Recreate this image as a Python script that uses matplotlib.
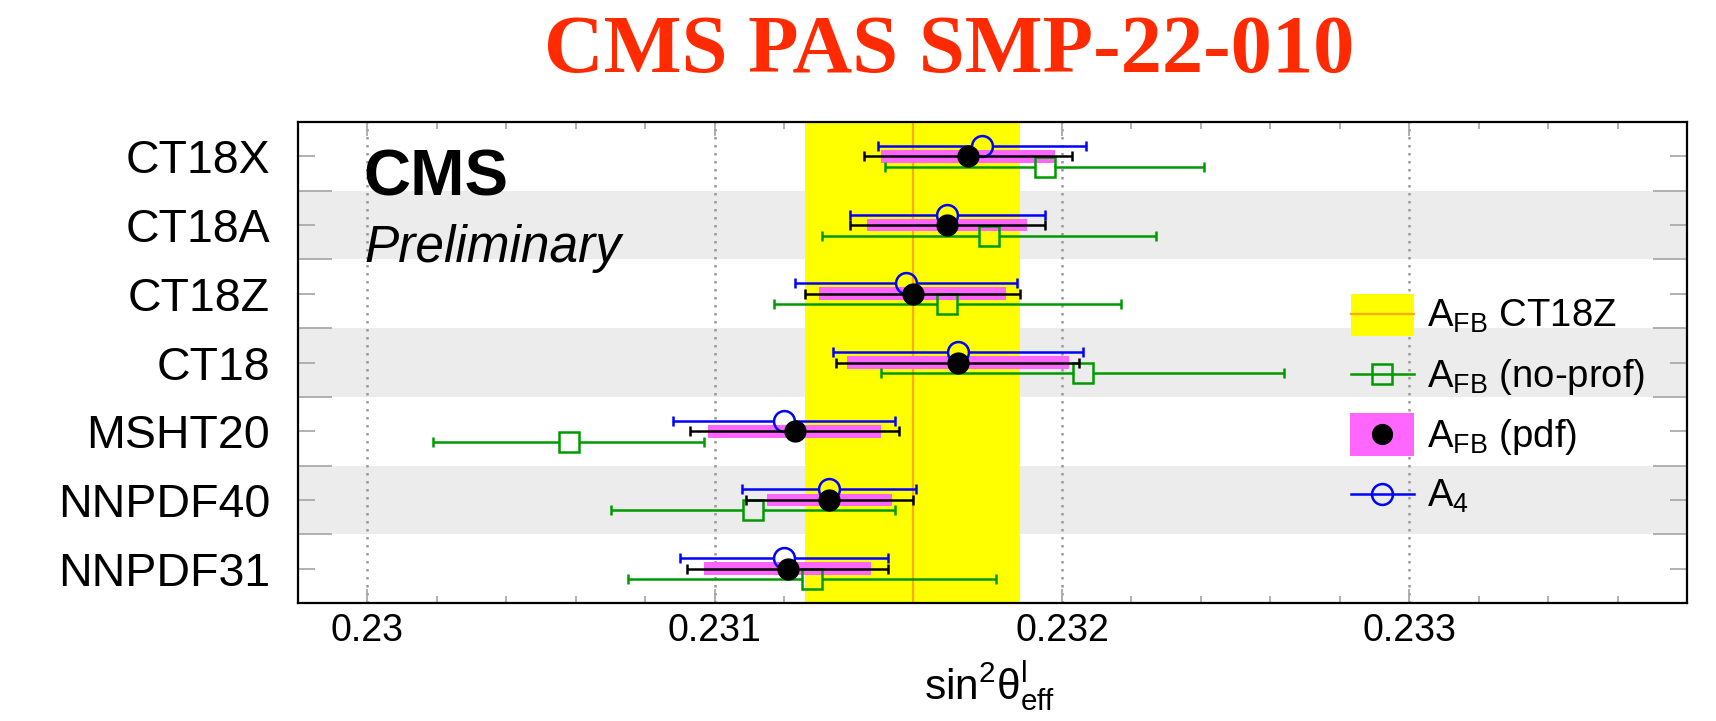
import numpy as np
import matplotlib
matplotlib.use("Agg")
import matplotlib.pyplot as plt
from matplotlib.patches import Rectangle
from matplotlib.lines import Line2D
from matplotlib.ticker import MultipleLocator, FuncFormatter

plt.rcParams['font.family'] = ['Liberation Sans', 'DejaVu Sans']
plt.rcParams['mathtext.fontset'] = 'custom'
plt.rcParams['mathtext.rm'] = 'Liberation Sans'
plt.rcParams['mathtext.it'] = 'Liberation Sans:italic'
plt.rcParams['mathtext.bf'] = 'Liberation Sans:bold'

# ---- measurements of sin^2(theta_eff) for each PDF set ----
pdf_sets = ['CT18X', 'CT18A', 'CT18Z', 'CT18', 'MSHT20', 'NNPDF40', 'NNPDF31']

# A_FB fit with PDF profiling: central value, total error, PDF-only error
afb_val = [0.23173, 0.23167, 0.23157, 0.23170, 0.23123, 0.23133, 0.23121]
afb_err = [0.00030, 0.00028, 0.00031, 0.00035, 0.00030, 0.00024, 0.00029]
afb_pdf_err = [0.00025, 0.00023, 0.00027, 0.00032, 0.00025, 0.00018, 0.00024]

# A_FB fit without profiling
noprof_val = [0.23195, 0.23179, 0.23167, 0.23206, 0.23058, 0.23111, 0.23128]
noprof_err = [0.00046, 0.00048, 0.00050, 0.00058, 0.00039, 0.00041, 0.00053]

# angular coefficient A4 fit
a4_val = [0.23177, 0.23167, 0.23155, 0.23170, 0.23120, 0.23133, 0.23120]
a4_err = [0.00030, 0.00028, 0.00032, 0.00036, 0.00032, 0.00025, 0.00030]

# nominal result (A_FB, CT18Z)
nominal_val = 0.23157
nominal_err = 0.00031

x_ticks = [0.230, 0.231, 0.232, 0.233]

# ---- styling ----
YELLOW = '#ffff00'
ORANGE = '#ffaa00'
PINK = '#ff66ff'
GREEN = '#009a00'
BLUE = '#0000ff'
BAND = '#ececec'
TICK = '#aaaaaa'

W, H, DPI = 1716, 721, 100
L_PX, R_PX, T_PX, B_PX = 298, 1687, 122, 603

fig = plt.figure(figsize=(W / DPI, H / DPI), dpi=DPI)
ax = fig.add_axes([L_PX / W, 1 - B_PX / H, (R_PX - L_PX) / W, (B_PX - T_PX) / H])

xmin, xmax = 0.2298, 0.2338
n = len(pdf_sets)
ax.set_xlim(xmin, xmax)
ax.set_ylim(n - 0.5, -0.5)

px_per_x = (R_PX - L_PX) / (xmax - xmin)
px_per_row = (B_PX - T_PX) / n

ypos = np.arange(n)
sub_off = 10.5 / px_per_row          # vertical offset of A4 / no-prof rows
cap_half = 5.0 / px_per_row          # half height of error-bar caps
ms = 15.0                            # marker size (pt)
gap = ms * DPI / 72 / 2 / px_per_x   # error bar stops at marker edge
lw = 1.8
mew = 1.8

# alternating row bands
for i in range(n):
    if i % 2 == 1:
        ax.axhspan(i - 0.5, i + 0.5, color=BAND, lw=0, zorder=0.2)

# dotted grid at major x ticks
ax.grid(axis='x', which='major', linestyle=(0, (1, 2.2)), color='#999999', lw=1.8)
ax.set_axisbelow(True)

# nominal band
ax.axvspan(nominal_val - nominal_err, nominal_val + nominal_err, color=YELLOW, lw=0, zorder=1)
ax.axvline(nominal_val, color=ORANGE, lw=1.6, zorder=1.1)

# PDF uncertainty bars
afb_val_a = np.array(afb_val)
afb_pdf_a = np.array(afb_pdf_err)
ax.barh(ypos, 2 * afb_pdf_a, left=afb_val_a - afb_pdf_a, height=0.185,
        color=PINK, lw=0, zorder=2)


def err_bar(y, val, err, color, g, z):
    y = np.asarray(y, dtype=float)
    val = np.asarray(val, dtype=float)
    err = np.asarray(err, dtype=float)
    ax.hlines(y, val - err, val - g, color=color, lw=lw, zorder=z)
    ax.hlines(y, val + g, val + err, color=color, lw=lw, zorder=z)
    ax.vlines(val - err, y - cap_half, y + cap_half, color=color, lw=lw, zorder=z)
    ax.vlines(val + err, y - cap_half, y + cap_half, color=color, lw=lw, zorder=z)


# A4
err_bar(ypos - sub_off, a4_val, a4_err, BLUE, gap, 3)
ax.plot(a4_val, ypos - sub_off, 'o', ms=ms, mfc='none', mec=BLUE, mew=mew, zorder=4, ls='none')

# A_FB no profiling
err_bar(ypos + sub_off, noprof_val, noprof_err, GREEN, gap * 0.95, 3)
ax.plot(noprof_val, ypos + sub_off, 's', ms=ms * 0.95, mfc='none', mec=GREEN, mew=mew, zorder=4, ls='none')

# A_FB with profiling
err_bar(ypos, afb_val, afb_err, 'black', 0.0, 5)
ax.plot(afb_val, ypos, 'o', ms=ms, color='black', zorder=6, ls='none')

# ---- axes and ticks ----
for s in ax.spines.values():
    s.set_linewidth(1.6)
    s.set_color('black')
    s.set_zorder(10)

ax.set_xticks(x_ticks)
ax.xaxis.set_minor_locator(MultipleLocator(0.0002))
ax.xaxis.set_major_formatter(FuncFormatter(lambda v, p: f'{v:g}'))
ax.tick_params(axis='x', which='major', direction='in', length=10, width=1.3,
               color=TICK, top=True, bottom=True, labelsize=27, pad=7)
ax.tick_params(axis='x', which='minor', direction='in', length=5, width=1.3,
               color=TICK, top=True, bottom=True)

ax.set_yticks(np.arange(-0.5, n, 1.0))
ax.set_yticklabels([])
ax.set_yticks(ypos, minor=True)
ax.set_yticklabels(pdf_sets, minor=True)
ax.tick_params(axis='y', which='major', direction='in', length=24.5, width=1.3,
               color=TICK, left=True, right=True)
ax.tick_params(axis='y', which='minor', direction='in', length=12, width=1.3,
               color=TICK, left=True, right=True, labelsize=33.5, pad=20)

# ---- texts ----
fig.text(949 / W, 1 - 72 / H, 'CMS PAS SMP-22-010', family=['Liberation Serif', 'DejaVu Serif'],
         fontweight='bold', color='#ff2a00', fontsize=59.5, ha='center', va='baseline')
fig.text(363 / W, 1 - 195 / H, 'CMS', fontsize=47, fontweight='bold', va='baseline', zorder=20)
fig.text(364 / W, 1 - 262 / H, 'Preliminary', fontsize=37, style='italic', va='baseline', zorder=20)
fig.text(990 / W, 1 - 699 / H, r'$\mathregular{sin^{2}\theta^{l}_{eff}}$', fontsize=30.5,
         ha='center', va='baseline')


# ---- legend ----
def axx(px):
    return (px - L_PX) / (R_PX - L_PX)


def axy(py):
    return (B_PX - py) / (B_PX - T_PX)


kx0, kx1, kxc = 1351, 1414, 1382
tx = 1427
leg_fs = 27.5
tr = ax.transAxes

ax.add_patch(Rectangle((axx(kx0), axy(336)), axx(kx1) - axx(kx0), axy(294) - axy(336),
                       transform=tr, color=YELLOW, lw=0, zorder=7))
ax.add_line(Line2D([axx(kx0), axx(kx1)], [axy(314)] * 2, transform=tr, color=ORANGE, lw=1.6, zorder=8))

ax.add_line(Line2D([axx(kx0), axx(kx1)], [axy(374)] * 2, transform=tr, color=GREEN, lw=lw, zorder=8))
ax.add_line(Line2D([axx(kxc)], [axy(374)], transform=tr, marker='s', ms=ms * 0.95, mfc='none',
                   mec=GREEN, mew=mew, zorder=8))

ax.add_patch(Rectangle((axx(kx0 - 1), axy(456)), axx(kx1) - axx(kx0 - 1), axy(413) - axy(456),
                       transform=tr, color=PINK, lw=0, zorder=7))
ax.add_line(Line2D([axx(kxc)], [axy(434)], transform=tr, marker='o', ms=ms * 0.95, color='black',
                   zorder=8))

ax.add_line(Line2D([axx(kx0), axx(kx1)], [axy(494)] * 2, transform=tr, color=BLUE, lw=lw, zorder=8))
ax.add_line(Line2D([axx(kxc)], [axy(494)], transform=tr, marker='o', ms=ms, mfc='none',
                   mec=BLUE, mew=mew, zorder=8))

leg_labels = [r'$\mathregular{A_{FB}}$ CT18Z', r'$\mathregular{A_{FB}}$ (no-prof)',
              r'$\mathregular{A_{FB}}$ (pdf)', r'$\mathregular{A_{4}}$']
for lab, base in zip(leg_labels, [327, 387, 447, 507]):
    ax.text(axx(tx), axy(base), lab, transform=tr, fontsize=leg_fs, va='baseline', zorder=9)

fig.savefig('out.png', dpi=DPI)
